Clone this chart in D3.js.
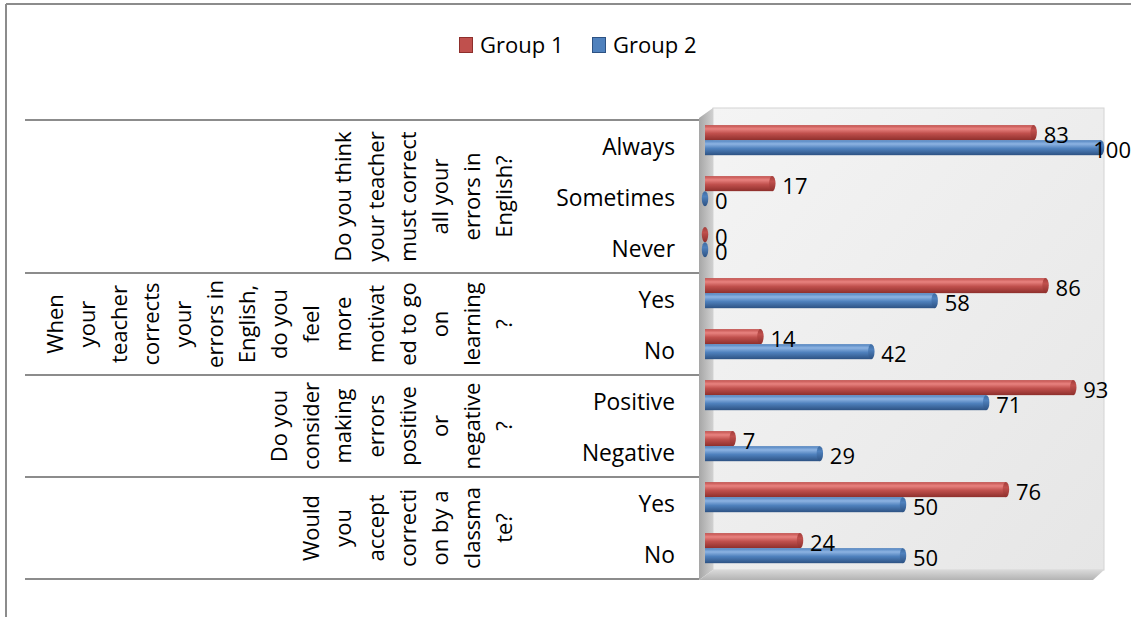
<!DOCTYPE html>
<html>
<head>
<meta charset="utf-8">
<script src="https://cdn.jsdelivr.net/npm/d3@7"></script>
<style>
  html, body { margin: 0; padding: 0; background: #ffffff; }
  svg { display: block; font-family: "Open Sans", "DejaVu Sans", sans-serif; }
</style>
</head>
<body>
<svg id="chart" width="1131" height="617"></svg>
<script>
// ---- data ----
const categories = ["Always", "Sometimes", "Never", "Yes", "No", "Positive", "Negative", "Yes", "No"];
const seriesNames = ["Group 1", "Group 2"];
const group1 = [83, 17, 0, 86, 14, 93, 7, 76, 24];
const group2 = [100, 0, 0, 58, 42, 71, 29, 50, 50];
const questionSizes = [3, 2, 2, 2];
const questionLines = [
  ["Do you think", "your teacher", "must correct", "all your", "errors in", "English?"],
  ["When", "your", "teacher", "corrects", "your", "errors in", "English,", "do you", "feel", "more", "motivat", "ed to go", "on", "learning", "?"],
  ["Do you", "consider", "making", "errors", "positive", "or", "negative", "?"],
  ["Would", "you", "accept", "correcti", "on by a", "classma", "te?"]
];

(function () {
// ---- setup ----
const svg = d3.select("#chart");
const W = 1131, H = 617;
const FS = 22;
const colors = {
  "Group 1": { light: "#e8827f", mid: "#c0504d", dark: "#8e2f2c", cap: "#a33e3b" },
  "Group 2": { light: "#8db3e2", mid: "#4f81bd", dark: "#2d5283", cap: "#3d6aa0" }
};

const defs = svg.append("defs");
seriesNames.forEach((s, i) => {
  const c = colors[s];
  const g = defs.append("linearGradient").attr("id", "grad" + i)
    .attr("x1", 0).attr("y1", 0).attr("x2", 0).attr("y2", 1);
  g.append("stop").attr("offset", "0%").attr("stop-color", c.mid);
  g.append("stop").attr("offset", "25%").attr("stop-color", c.light);
  g.append("stop").attr("offset", "55%").attr("stop-color", c.mid);
  g.append("stop").attr("offset", "100%").attr("stop-color", c.dark);
  const gc = defs.append("linearGradient").attr("id", "cap" + i)
    .attr("x1", 0).attr("y1", 0).attr("x2", 0).attr("y2", 1);
  gc.append("stop").attr("offset", "0%").attr("stop-color", c.cap);
  gc.append("stop").attr("offset", "35%").attr("stop-color", c.mid);
  gc.append("stop").attr("offset", "100%").attr("stop-color", c.dark);
});
const wallGrad = defs.append("linearGradient").attr("id", "wall")
  .attr("x1", 0).attr("y1", 0).attr("x2", 1).attr("y2", 1);
wallGrad.append("stop").attr("offset", "0%").attr("stop-color", "#f4f4f4");
wallGrad.append("stop").attr("offset", "100%").attr("stop-color", "#e6e6e6");
const sideGrad = defs.append("linearGradient").attr("id", "side")
  .attr("x1", 0).attr("y1", 0).attr("x2", 1).attr("y2", 0);
sideGrad.append("stop").attr("offset", "0%").attr("stop-color", "#a6a6a6");
sideGrad.append("stop").attr("offset", "100%").attr("stop-color", "#d0d0d0");
const floorGrad = defs.append("linearGradient").attr("id", "floor")
  .attr("x1", 0).attr("y1", 0).attr("x2", 0).attr("y2", 1);
floorGrad.append("stop").attr("offset", "0%").attr("stop-color", "#d9d9d9");
floorGrad.append("stop").attr("offset", "100%").attr("stop-color", "#b3b3b3");

// outer frame
svg.append("line").attr("x1", 6).attr("y1", 4).attr("x2", W).attr("y2", 4)
  .attr("stroke", "#8c8c8c").attr("stroke-width", 2);
svg.append("line").attr("x1", 6).attr("y1", 4).attr("x2", 6).attr("y2", H)
  .attr("stroke", "#8c8c8c").attr("stroke-width", 2);

// scales
const x = d3.scaleLinear().domain([0, 100]).range([705, 1101]);
const y = d3.scaleBand().domain(d3.range(categories.length)).range([120, 579]);
const bw = y.bandwidth();
const ySub = d3.scaleBand().domain(seriesNames).range([bw * 0.1, bw * 0.69]);

// 3D box
const depthX = 14, depthY = 10;
const wTop = 108, wBottom = 570, wLeft = 713, wRight = 1104;
svg.append("rect").attr("x", wLeft).attr("y", wTop).attr("width", wRight - wLeft).attr("height", wBottom - wTop)
  .attr("fill", "url(#wall)").attr("stroke", "#d4d4d4").attr("stroke-width", 1);
svg.append("polygon")
  .attr("points", [[wLeft - depthX, wTop + depthY], [wLeft, wTop], [wLeft, wBottom], [wLeft - depthX, wBottom + depthY]].join(" "))
  .attr("fill", "url(#side)");
svg.append("polygon")
  .attr("points", [[wLeft - depthX, wBottom + depthY], [wLeft, wBottom], [wRight, wBottom], [wRight - 11, wBottom + depthY]].join(" "))
  .attr("fill", "url(#floor)");

// group separators
const boundaries = [0];
questionSizes.forEach(n => boundaries.push(boundaries[boundaries.length - 1] + n));
const bandEdge = i => i === categories.length ? y.range()[1] : y(i);
svg.selectAll("line.sep").data(boundaries).join("line").attr("class", "sep")
  .attr("x1", 25).attr("x2", wLeft - depthX)
  .attr("y1", d => bandEdge(d)).attr("y2", d => bandEdge(d))
  .attr("stroke", "#8c8c8c").attr("stroke-width", 2);

// question labels (rotated, multi-line)
const lineGap = 32.1, lastLineX = 504;
questionLines.forEach((lines, qi) => {
  const cy = (bandEdge(boundaries[qi]) + bandEdge(boundaries[qi + 1])) / 2;
  const n = lines.length;
  svg.append("g").selectAll("text").data(lines).join("text")
    .attr("transform", (d, i) => `translate(${lastLineX - (n - 1 - i) * lineGap},${cy}) rotate(-90)`)
    .attr("text-anchor", "middle")
    .attr("dy", "0.36em")
    .attr("font-size", FS).attr("fill", "#000")
    .text(d => d);
});

// category axis
const axis = d3.axisLeft(y).tickSize(0).tickPadding(24).tickFormat(i => categories[i]);
const axG = svg.append("g").attr("transform", `translate(${wLeft - depthX},0)`).call(axis);
axG.select(".domain").remove();
axG.selectAll("text").attr("font-size", 22.8).attr("font-family", "'Open Sans', sans-serif")
  .attr("fill", "#000").attr("dy", "0.43em");

// bars
const data = [];
categories.forEach((c, i) => {
  data.push({ i, s: "Group 1", si: 0, v: group1[i] });
  data.push({ i, s: "Group 2", si: 1, v: group2[i] });
});
const bh = ySub.bandwidth();
const bars = svg.append("g").selectAll("g").data(data).join("g")
  .attr("transform", d => `translate(0,${y(d.i) + ySub(d.s)})`);
bars.append("rect")
  .attr("x", x(0)).attr("y", 0)
  .attr("width", d => Math.max(0, x(d.v) - x(0)))
  .attr("height", bh)
  .attr("fill", d => `url(#grad${d.si})`);
bars.append("ellipse")
  .attr("cx", d => x(d.v)).attr("cy", bh / 2)
  .attr("rx", 3.2).attr("ry", bh / 2)
  .attr("fill", d => `url(#cap${d.si})`);

// value labels
svg.append("g").selectAll("text").data(data).join("text")
  .attr("font-size", FS).attr("fill", "#000")
  .attr("y", d => y(d.i) + ySub(d.s) + bh / 2 + 10)
  .text(d => d.v)
  .attr("x", function (d) {
    const w = this.getComputedTextLength();
    return Math.min(x(d.v) + 10, W - w);
  });

// legend
const legendX = [459, 592];
const leg = svg.append("g").selectAll("g").data(seriesNames).join("g")
  .attr("transform", (d, i) => `translate(${legendX[i]},37)`);
leg.append("rect").attr("x", 0.5).attr("y", 0.5).attr("width", 13).attr("height", 15)
  .attr("fill", d => colors[d].mid).attr("stroke", d => colors[d].dark).attr("stroke-width", 1);
leg.append("text").attr("x", 21).attr("y", 15.5).attr("font-size", FS).attr("fill", "#000").text(d => d);
})();
</script>
</body>
</html>
